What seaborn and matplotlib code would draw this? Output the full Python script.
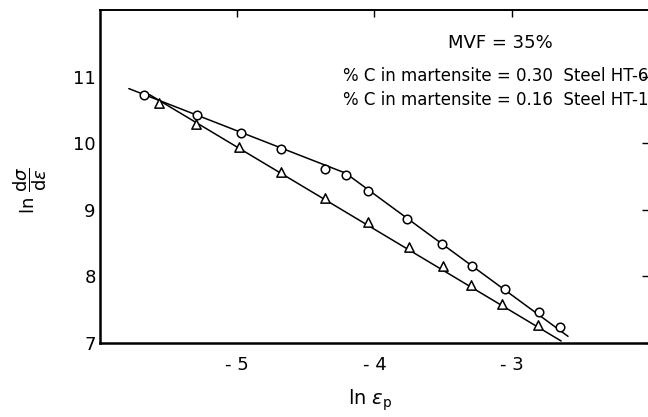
import matplotlib
matplotlib.use("Agg")
import matplotlib.pyplot as plt
import seaborn as sns
import pandas as pd

# Measured points: ln(plastic strain) vs ln(work-hardening rate)
ln_eps_ht6 = [-5.68, -5.29, -4.97, -4.68, -4.36, -4.21, -4.05, -3.76, -3.51, -3.29, -3.05, -2.80, -2.65]
ln_rate_ht6 = [10.73, 10.42, 10.16, 9.92, 9.62, 9.52, 9.28, 8.86, 8.48, 8.16, 7.81, 7.46, 7.24]

ln_eps_ht1 = [-5.57, -5.30, -4.99, -4.68, -4.36, -4.05, -3.75, -3.50, -3.30, -3.07, -2.81]
ln_rate_ht1 = [10.61, 10.29, 9.94, 9.57, 9.18, 8.81, 8.44, 8.15, 7.87, 7.59, 7.27]

# Fitted straight-line segments (two stages for HT-6, one for HT-1)
fit_x_ht6 = [-5.79, -4.21, -2.59]
fit_y_ht6 = [10.82, 9.55, 7.10]
fit_x_ht1 = [-5.64, -2.64]
fit_y_ht1 = [10.73, 7.03]

x_ticks = [-5, -4, -3]
x_tick_labels = ["- 5", "- 4", "- 3"]
y_ticks = [7, 8, 9, 10, 11]
y_tick_labels = ["7", "8", "9", "10", "11"]

sns.set_theme(style="white")
plt.rcParams["font.family"] = ["DejaVu Sans"]
plt.rcParams["text.color"] = "black"
plt.rcParams["axes.labelcolor"] = "black"
plt.rcParams["mathtext.fontset"] = "dejavusans"

fig = plt.figure(figsize=(6.48, 4.17), dpi=100)
ax = fig.add_axes([100 / 648, 1 - 343 / 417, 549 / 648, 333 / 417])

pts_ht6 = pd.DataFrame({"x": ln_eps_ht6, "y": ln_rate_ht6})
pts_ht1 = pd.DataFrame({"x": ln_eps_ht1, "y": ln_rate_ht1})
fit_ht6 = pd.DataFrame({"x": fit_x_ht6, "y": fit_y_ht6})
fit_ht1 = pd.DataFrame({"x": fit_x_ht1, "y": fit_y_ht1})

sns.lineplot(data=fit_ht6, x="x", y="y", ax=ax, color="black", lw=1.1,
             sort=False, estimator=None)
sns.lineplot(data=fit_ht1, x="x", y="y", ax=ax, color="black", lw=1.1,
             sort=False, estimator=None)
sns.scatterplot(data=pts_ht6, x="x", y="y", ax=ax, marker="o", s=38,
                facecolor="white", edgecolor="black", linewidth=1.1, zorder=3)
sns.scatterplot(data=pts_ht1, x="x", y="y", ax=ax, marker="^", s=45,
                facecolor="white", edgecolor="black", linewidth=1.1, zorder=3)

ax.set_xlim(-6, -2)
ax.set_ylim(7, 12)
ax.set_xticks(x_ticks)
ax.set_xticklabels(x_tick_labels)
ax.set_yticks(y_ticks)
ax.set_yticklabels(y_tick_labels)

ax.tick_params(axis="both", which="both", direction="in", length=5, width=1,
               color="black", labelsize=13, labelcolor="black", pad=3,
               top=True, right=True)
ax.tick_params(axis="x", pad=9)

for side in ["left", "bottom"]:
    ax.spines[side].set_linewidth(1.8)
    ax.spines[side].set_color("black")
ax.spines["top"].set_linewidth(1.4)
ax.spines["top"].set_color("black")
ax.spines["right"].set_visible(False)

ax.set_xlabel("")
ax.set_ylabel("")
fig.text(370 / 648, 1 - 400 / 417, r"ln $\epsilon_{\mathrm{p}}$", ha="center",
         va="center", fontsize=14)
fig.text(30 / 648, 1 - 190 / 417, r"ln $\dfrac{\mathrm{d}\sigma}{\mathrm{d}\epsilon}$",
         ha="center", va="center", fontsize=13, rotation=90)

fig.text(500 / 648, 1 - 43 / 417, "MVF = 35%", ha="center", va="center", fontsize=13)
fig.text(343 / 648, 1 - 76 / 417, "% C in martensite = 0.30  Steel HT-6",
         ha="left", va="center", fontsize=12)
fig.text(343 / 648, 1 - 100 / 417, "% C in martensite = 0.16  Steel HT-1",
         ha="left", va="center", fontsize=12)

fig.savefig("out.png", dpi=100)
